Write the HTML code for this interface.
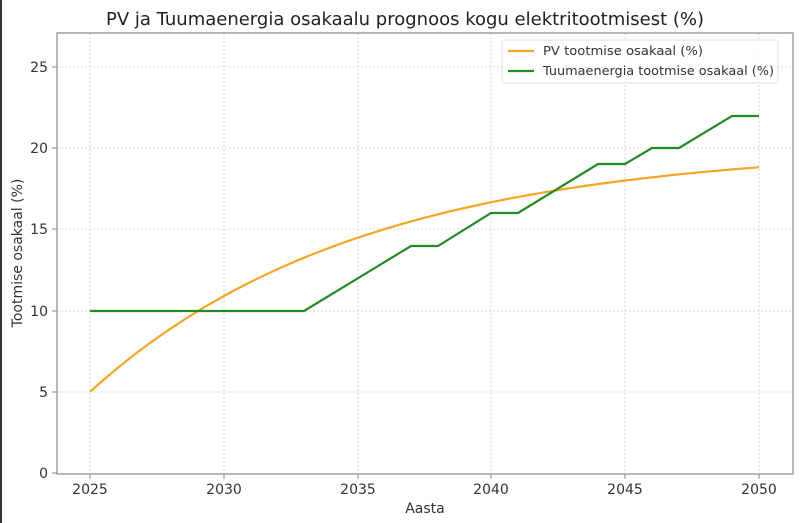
<!DOCTYPE html>
<html><head><meta charset="utf-8"><style>
body{margin:0;background:#fff;}
svg{display:block;font-family:"DejaVu Sans","Liberation Sans",sans-serif;}
</style></head><body>
<svg width="800" height="523" viewBox="0 0 800 523">
<rect x="0" y="0" width="800" height="523" fill="#fff"/>
<rect x="0" y="0" width="2" height="523" fill="#333"/>
<text x="405" y="25" font-size="18" text-anchor="middle" fill="#222">PV ja Tuumaenergia osakaalu prognoos kogu elektritootmisest (%)</text>
<g stroke="#ccc" stroke-dasharray="2,2" stroke-width="0.8">
<line x1="90" y1="33" x2="90" y2="473"/><line x1="224" y1="33" x2="224" y2="473"/><line x1="358" y1="33" x2="358" y2="473"/><line x1="491" y1="33" x2="491" y2="473"/><line x1="625" y1="33" x2="625" y2="473"/><line x1="759" y1="33" x2="759" y2="473"/>
<line x1="57" y1="392" x2="793" y2="392"/><line x1="57" y1="311" x2="793" y2="311"/><line x1="57" y1="229" x2="793" y2="229"/><line x1="57" y1="148" x2="793" y2="148"/><line x1="57" y1="67" x2="793" y2="67"/>
</g>
<rect x="57" y="33" width="736" height="441" fill="none" stroke="#888" stroke-width="1.2"/>
<g stroke="#888"><line x1="90" y1="474" x2="90" y2="479"/><line x1="224" y1="474" x2="224" y2="479"/><line x1="358" y1="474" x2="358" y2="479"/><line x1="491" y1="474" x2="491" y2="479"/><line x1="625" y1="474" x2="625" y2="479"/><line x1="759" y1="474" x2="759" y2="479"/>
<line x1="52" y1="473" x2="57" y2="473"/><line x1="52" y1="392" x2="57" y2="392"/><line x1="52" y1="311" x2="57" y2="311"/><line x1="52" y1="229" x2="57" y2="229"/><line x1="52" y1="148" x2="57" y2="148"/><line x1="52" y1="67" x2="57" y2="67"/></g>
<g font-size="14" fill="#333" text-anchor="middle">
<text x="90" y="494">2025</text><text x="224" y="494">2030</text><text x="358" y="494">2035</text><text x="491" y="494">2040</text><text x="625" y="494">2045</text><text x="759" y="494">2050</text>
</g>
<g font-size="14" fill="#333" text-anchor="end">
<text x="48" y="478">0</text><text x="48" y="397">5</text><text x="48" y="316">10</text><text x="48" y="234">15</text><text x="48" y="153">20</text><text x="48" y="72">25</text>
</g>
<text x="425" y="513" font-size="14" text-anchor="middle" fill="#333">Aasta</text>
<text transform="translate(22,253) rotate(-90)" font-size="14" text-anchor="middle" fill="#333">Tootmise osakaal (%)</text>
<polyline id="pv" fill="none" stroke="#f5a623" stroke-width="2.2"/>
<polyline fill="none" stroke="#228b22" stroke-width="2.2" points="90,311 304,311 411,246 438,246 491,213 518,213 598,164 625,164 652,148 679,148 732,116 759,116"/>
<rect x="502" y="40" width="276" height="43" fill="#fff" fill-opacity="0.85" stroke="#ddd" rx="2"/>
<line x1="508" y1="51" x2="534" y2="51" stroke="#f5a623" stroke-width="2.2"/>
<line x1="508" y1="71" x2="534" y2="71" stroke="#228b22" stroke-width="2.2"/>
<text x="543" y="55" font-size="12" fill="#333" textLength="160" lengthAdjust="spacingAndGlyphs">PV tootmise osakaal (%)</text>
<text x="543" y="75" font-size="12" fill="#333" textLength="231" lengthAdjust="spacingAndGlyphs">Tuumaenergia tootmise osakaal (%)</text>
</svg>
<script>
var p=[];for(var i=0;i<=100;i++){var t=i*0.25;var v=5+15.1*(1-Math.exp(-0.0989*t));p.push((90+t*26.76).toFixed(1)+","+(473-v*16.24).toFixed(1));}
document.getElementById("pv").setAttribute("points",p.join(" "));
</script>
</body></html>
